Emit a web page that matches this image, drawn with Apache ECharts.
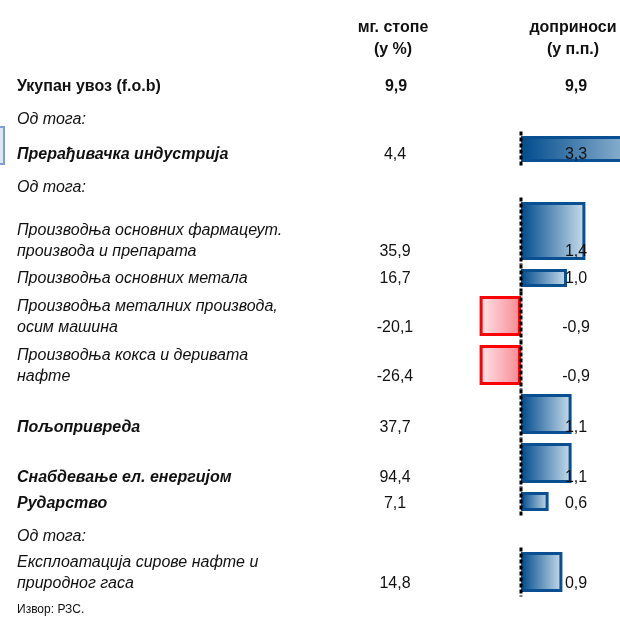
<!DOCTYPE html>
<html>
<head>
<meta charset="utf-8">
<script src="https://cdn.jsdelivr.net/npm/echarts@6/dist/echarts.min.js"></script>
<style>
  html, body { margin: 0; padding: 0; background: #fff; }
  #main { width: 620px; height: 618px; }
</style>
</head>
<body>
<div id="main"></div>
<script>
// 数据：各行名称、增长率、贡献
var categories = [
    'Прерађивачка индустрија',
    'Производња основних фармацеут.\nпроизвода и препарата',
    'Производња основних метала',
    'Производња металних производа,\nосим машина',
    'Производња кокса и деривата\nнафте',
    'Пољопривреда',
    'Снабдевање ел. енергијом',
    'Рударство',
    'Експлоатација сирове нафте и\nприродног гаса'
];
var growth = [4.4, 35.9, 16.7, -20.1, -26.4, 37.7, 94.4, 7.1, 14.8];
var contrib = [3.3, 1.4, 1.0, -0.9, -0.9, 1.1, 1.1, 0.6, 0.9];
var totalName = 'Укупан увоз (f.o.b)';
var totalGrowth = 9.9;
var totalContrib = 9.9;
var headers = ['мг. стопе\n(у %)', 'доприноси\n(у п.п.)'];
var subNote = 'Од тога:';
var source = 'Извор: РЗС.';

// 版式（表格行的位置，不是数据）
var rowY = [155, 252, 279, 328, 377, 428, 478, 504, 584];
var barTop = [136, 202, 269, 296, 345, 394, 443, 492, 552];
var barBottom = [162, 260, 287, 336, 385, 434, 483, 511, 592];
var rowBold = [true, false, false, false, false, true, true, true, false];
var noteY = [120, 188, 537];

var FONT = '"Liberation Sans", Arial, sans-serif';
var TXT = '#111';
var FS = '16px ';

function fmt(v){
    return v.toFixed(1).replace('.', ',');
}

var myChart = echarts.init(document.getElementById('main'), null, {renderer: 'canvas'});

var graphics = [];
// 左边的小框
graphics.push({
    type: 'rect', z: 100,
    shape: {x: -2, y: 127, width: 6, height: 37},
    style: {fill: '#dde6f2', stroke: '#7f9fd0', lineWidth: 2}
});
// 表头（两行）
graphics.push({
    type: 'text', z: 100, x: 393, y: 17,
    style: {text: headers[0], font: 'bold ' + FS + FONT, fill: TXT, align: 'center', verticalAlign: 'top', lineHeight: 22}
});
graphics.push({
    type: 'text', z: 100, x: 573, y: 17,
    style: {text: headers[1], font: 'bold ' + FS + FONT, fill: TXT, align: 'center', verticalAlign: 'top', lineHeight: 22}
});

// 合计行
graphics.push({type: 'text', z: 100, x: 17, y: 87,
    style: {text: totalName, font: 'bold ' + FS + FONT, fill: TXT, verticalAlign: 'middle'}});
graphics.push({type: 'text', z: 100, x: 396, y: 87,
    style: {text: fmt(totalGrowth), font: 'bold ' + FS + FONT, fill: TXT, align: 'center', verticalAlign: 'middle'}});
graphics.push({type: 'text', z: 100, x: 576, y: 87,
    style: {text: fmt(totalContrib), font: 'bold ' + FS + FONT, fill: TXT, align: 'center', verticalAlign: 'middle'}});

noteY.forEach(function(y){
    graphics.push({type: 'text', z: 100, x: 17, y: y,
        style: {text: subNote, font: 'italic ' + FS + FONT, fill: TXT, verticalAlign: 'middle'}});
});

categories.forEach(function(name, i){
    graphics.push({type: 'text', z: 100, x: 17, y: rowY[i] + 10.5,
        style: {text: name, font: (rowBold[i] ? 'italic bold ' : 'italic ') + FS + FONT,
            fill: TXT, verticalAlign: 'bottom', lineHeight: 21}});
    graphics.push({type: 'text', z: 100, x: 395, y: rowY[i],
        style: {text: fmt(growth[i]), font: FS + FONT, fill: TXT, align: 'center', verticalAlign: 'middle'}});
    graphics.push({type: 'text', z: 100, x: 576, y: rowY[i],
        style: {text: fmt(contrib[i]), font: FS + FONT, fill: TXT, align: 'center', verticalAlign: 'middle'}});
});

graphics.push({type: 'text', z: 100, x: 17, y: 610,
    style: {text: source, font: '12px ' + FONT, fill: TXT, verticalAlign: 'middle'}});

function renderBar(params, api){
    var i = params.dataIndex;
    var v = api.value(0);
    var p0 = api.coord([0, barTop[i]]);
    var p1 = api.coord([v, barBottom[i]]);
    var pos = v >= 0;
    var x0 = Math.min(p0[0], p1[0]), x1 = Math.max(p0[0], p1[0]);
    var fill = pos
        ? new echarts.graphic.LinearGradient(0, 0, 1, 0, [{offset: 0, color: '#004b8d'}, {offset: 1, color: '#cadeeb'}])
        : new echarts.graphic.LinearGradient(0, 0, 1, 0, [{offset: 0, color: '#ffe6ea'}, {offset: 1, color: '#f78893'}]);
    return {
        type: 'group',
        children: [{
            type: 'rect',
            shape: {x: x0 + 1.5, y: p0[1] + 1.5, width: x1 - x0 - 3, height: p1[1] - p0[1] - 3},
            style: {fill: fill, stroke: pos ? '#0b4f93' : '#ff0000', lineWidth: 3}
        }, {
            type: 'line',
            shape: {x1: p0[0], y1: p0[1] - 4.5, x2: p0[0], y2: p1[1] + 4.5},
            style: {stroke: '#000', lineWidth: 3, lineDash: [4, 2]}
        }]
    };
}

var option = {
    animation: false,
    grid: {left: 475, right: 0, top: 0, bottom: 0},
    xAxis: {type: 'value', min: -1, max: 2.152, show: false},
    yAxis: {type: 'value', min: 0, max: 618, inverse: true, show: false},
    series: [{
        type: 'custom',
        clip: false,
        renderItem: renderBar,
        encode: {x: 0, y: 1},
        data: contrib.map(function(v, i){ return [v, i]; })
    }],
    graphic: graphics
};

myChart.setOption(option);
</script>
</body>
</html>
